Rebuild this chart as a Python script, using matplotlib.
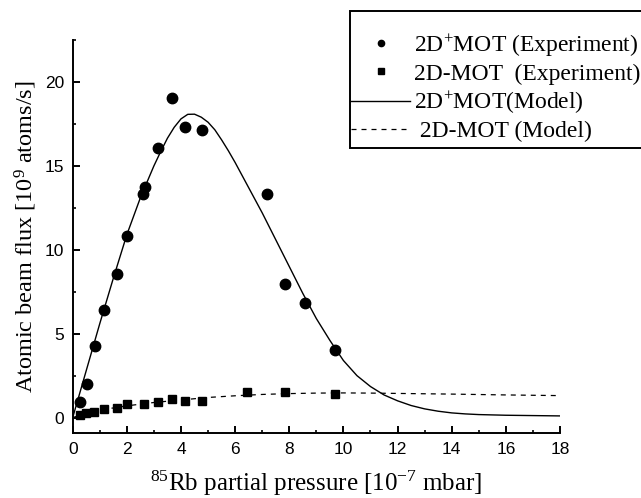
import matplotlib
matplotlib.use("Agg")
import matplotlib.pyplot as plt
from matplotlib.ticker import MultipleLocator
from matplotlib.patches import Rectangle

plt.rcParams['mathtext.fontset'] = 'custom'
plt.rcParams['mathtext.rm'] = 'Liberation Serif'
plt.rcParams['mathtext.it'] = 'Liberation Serif:italic'

# 2D+MOT experiment
plus_x = [0.27, 0.54, 0.82, 1.16, 1.62, 2.0, 2.61, 2.67, 3.16, 3.66, 4.15, 4.79, 7.16, 7.84, 8.58, 9.69]
plus_y = [0.93, 2.0, 4.29, 6.39, 8.57, 10.85, 13.3, 13.77, 16.05, 19.03, 17.3, 17.14, 13.35, 7.96, 6.83, 4.05]

# 2D-MOT experiment
mot_x = [0.27, 0.5, 0.8, 1.16, 1.62, 2.0, 2.63, 3.16, 3.66, 4.15, 4.76, 6.42, 7.84, 9.69]
mot_y = [0.15, 0.28, 0.36, 0.52, 0.58, 0.83, 0.81, 0.91, 1.11, 1.01, 1.01, 1.5, 1.53, 1.41]

# 2D+MOT model
plus_mx = [0, 0.5, 1.0, 1.5, 2.0, 2.5, 3.0, 3.25, 3.5, 3.75, 4.0, 4.25, 4.5, 4.75, 5.0, 5.25, 5.5, 5.75,
           6.0, 6.5, 7.0, 7.5, 8.0, 8.5, 9.0, 9.5, 10.0, 10.5, 11.0, 11.5, 12.0, 12.5, 13.0, 13.5,
           14.0, 14.5, 15.0, 16.0, 17.0, 18.0]
plus_my = [0, 2.8, 5.6, 8.3, 10.9, 13.1, 15.0, 15.85, 16.65, 17.3, 17.8, 18.07, 18.08, 17.9, 17.6, 17.15, 16.55, 15.9,
           15.2, 13.7, 12.2, 10.6, 9.0, 7.4, 5.9, 4.6, 3.4, 2.5, 1.85, 1.35, 1.0, 0.72, 0.52, 0.38,
           0.28, 0.22, 0.18, 0.14, 0.12, 0.1]

# 2D-MOT model
mot_mx = [0, 0.5, 1, 2, 3, 4, 5, 6, 7, 8, 9, 10, 11, 12, 14, 16, 18]
mot_my = [0, 0.25, 0.45, 0.7, 0.9, 1.05, 1.2, 1.3, 1.38, 1.43, 1.46, 1.47, 1.46, 1.44, 1.4, 1.35, 1.31]

legend_labels = ['2D$^{+}$MOT (Experiment)', '2D-MOT  (Experiment)', '2D$^{+}$MOT(Model)', ' 2D-MOT (Model)']

W, H = 641, 498
fig = plt.figure(figsize=(W/100, H/100), dpi=100)
ax = fig.add_axes([72.7/W, 1-432.7/H, (560-72.7)/W, (432.7-40)/H])

l_pm, = ax.plot(plus_mx, plus_my, '-', color='black', lw=1.0)
l_mm, = ax.plot(mot_mx, mot_my, color='black', lw=0.9, linestyle=(0, (4, 4)))
l_pe, = ax.plot(plus_x, plus_y, 'o', color='black', ms=7.5, linestyle='none')
l_me, = ax.plot(mot_x, mot_y, 's', color='black', ms=6.2, linestyle='none')

ax.set_xlim(0, 18)
ax.set_ylim(-0.9, 22.5)
ax.xaxis.set_major_locator(MultipleLocator(2))
ax.xaxis.set_minor_locator(MultipleLocator(1))
ax.yaxis.set_major_locator(MultipleLocator(5))
ax.yaxis.set_minor_locator(MultipleLocator(2.5))
ax.spines['top'].set_visible(False)
ax.spines['right'].set_visible(False)
for s in ['left', 'bottom']:
    ax.spines[s].set_linewidth(1.4)
ax.tick_params(which='major', direction='in', length=5, width=1.4, labelsize=12.5)
ax.tick_params(axis='x', which='major', pad=7)
ax.tick_params(axis='y', which='major', pad=6)
ax.tick_params(which='minor', direction='in', length=2.5, width=1.2)
for lab in ax.get_xticklabels() + ax.get_yticklabels():
    lab.set_fontfamily('Liberation Sans')

ax.set_xlabel('$^{85}$Rb partial pressure [10$^{-7}$ mbar]', family='Liberation Serif', fontsize=18, labelpad=8)
ax.set_ylabel('Atomic beam flux [10$^{9}$ atoms/s]', family='Liberation Serif', fontsize=17.5, labelpad=4)

# legend frame (extends beyond the right edge of the figure)
frame = Rectangle((350/W, 1-148/H), 320/W, 137/H, transform=fig.transFigure,
                  fill=True, facecolor='white', edgecolor='black', lw=1.4, zorder=5)
fig.patches.append(frame)

leg = fig.legend([l_pe, l_me, l_pm, l_mm], legend_labels,
                 loc='upper left', bbox_to_anchor=(351/W, 1-32/H),
                 prop={'family': 'Liberation Serif', 'size': 17},
                 frameon=False, handlelength=2.5, handletextpad=0.15, borderpad=0,
                 labelspacing=0.2, markerscale=0.6, borderaxespad=0)
leg.set_zorder(6)

fig.savefig('out.png', dpi=100)
